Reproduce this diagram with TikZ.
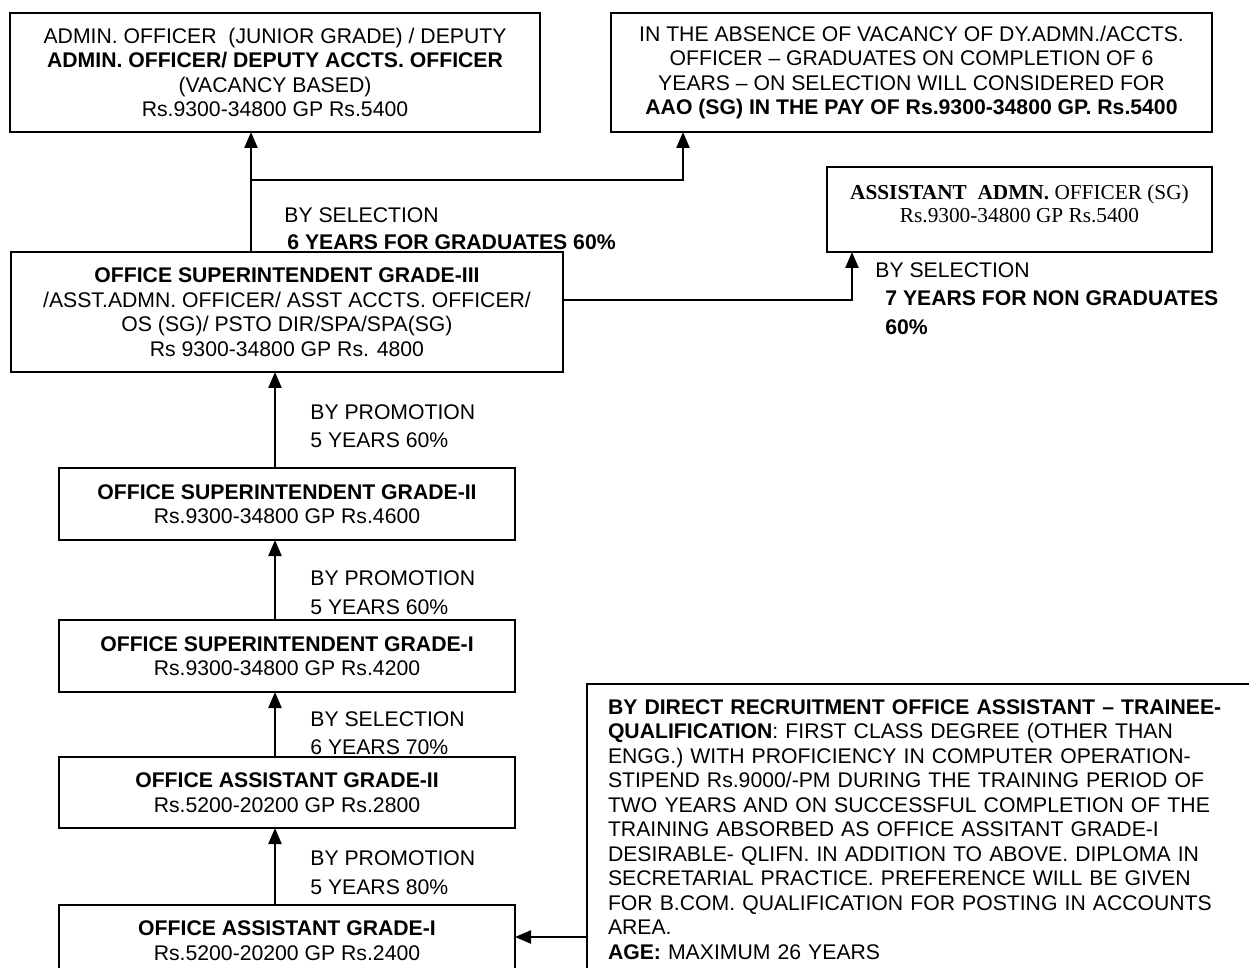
\documentclass[tikz,border=0pt]{standalone}
\usepackage{fontspec}
\setmainfont{Liberation Sans}
\newfontfamily\tnr{Liberation Serif}
\usetikzlibrary{arrows.meta}
\begin{document}
\begin{tikzpicture}[x=0.5pt,y=-0.5pt,
  txt/.style={font=\fontsize{10.6}{12.25}\selectfont},
  box/.style={txt, draw, line width=1pt, inner sep=0pt, outer sep=0pt,
    anchor=north west, align=center},
  lbl/.style={txt, inner sep=0pt, anchor=base west},
  arr/.style={line width=1.2pt, -{Triangle[length=8pt,width=6.5pt]}}]
\useasboundingbox (0,0) rectangle (1249,968);
\clip (0,0) rectangle (1249,968);
\fill[white] (0,0) rectangle (1249,968);

% upper posts
\node[box, minimum width=265pt, minimum height=59.5pt] (A) at (10,13)
  {ADMIN. OFFICER\ \ (JUNIOR GRADE) / DEPUTY\\
   \textbf{ADMIN. OFFICER/ DEPUTY ACCTS. OFFICER}\\
   (VACANCY BASED)\\
   Rs.9300-34800 GP Rs.5400};
\node[box, minimum width=300.5pt, minimum height=59.5pt] (B) at (611,13)
  {IN THE ABSENCE OF VACANCY OF DY.ADMN./ACCTS.\\
   OFFICER – GRADUATES ON COMPLETION OF 6\\
   YEARS – ON SELECTION WILL CONSIDERED FOR\\
   \textbf{AAO (SG) IN THE PAY OF Rs.9300-34800 GP. Rs.5400}};
\node[box, font=\tnr\fontsize{10.65}{11.5}\selectfont,
      minimum width=192.5pt, minimum height=42.5pt] (C) at (827,167)
  {\textbf{ASSISTANT\ \ ADMN.} OFFICER (SG)\\
   Rs.9300-34800 GP Rs.5400\rule[-5.6pt]{0pt}{5.6pt}};
\node[box, minimum width=276pt, minimum height=60pt] (D) at (11,252)
  {\textbf{OFFICE SUPERINTENDENT GRADE-III}\\
   /ASST.ADMN. OFFICER/ ASST ACCTS. OFFICER/\\
   OS (SG)/ PSTO DIR/SPA/SPA(SG)\\
   Rs 9300-34800 GP Rs. 4800};

% lower ladder
\node[box, minimum width=228pt, minimum height=36pt] (E) at (59,468)
  {\textbf{OFFICE SUPERINTENDENT GRADE-II}\\ Rs.9300-34800 GP Rs.4600};
\node[box, minimum width=228pt, minimum height=36pt] (F) at (59,620)
  {\textbf{OFFICE SUPERINTENDENT GRADE-I}\\ Rs.9300-34800 GP Rs.4200};
\node[box, minimum width=228pt, minimum height=35.5pt] (G) at (59,757)
  {\textbf{OFFICE ASSISTANT GRADE-II}\\ Rs.5200-20200 GP Rs.2800};
\node[box, minimum width=228pt, minimum height=35.5pt] (H) at (59,905)
  {\textbf{OFFICE ASSISTANT GRADE-I}\\ Rs.5200-20200 GP Rs.2400};

% direct recruitment
\node[txt, draw, line width=1pt, outer sep=0pt, anchor=north west,
      inner xsep=10.5pt, inner ysep=7.7pt, text width=320.5pt, align=left] (DR) at (587,684)
  {\textbf{BY DIRECT RECRUITMENT OFFICE ASSISTANT – TRAINEE-}\\
   \textbf{QUALIFICATION}: FIRST CLASS DEGREE (OTHER THAN\\
   ENGG.) WITH PROFICIENCY IN COMPUTER OPERATION-\\
   STIPEND Rs.9000/-PM DURING THE TRAINING PERIOD OF\\
   TWO YEARS AND ON SUCCESSFUL COMPLETION OF THE\\
   TRAINING ABSORBED AS OFFICE ASSITANT GRADE-I\\
   DESIRABLE- QLIFN. IN ADDITION TO ABOVE. DIPLOMA IN\\
   SECRETARIAL PRACTICE. PREFERENCE WILL BE GIVEN\\
   FOR B.COM. QUALIFICATION FOR POSTING IN ACCOUNTS\\
   AREA.\\
   \textbf{AGE:} MAXIMUM 26 YEARS};

% routing points
\coordinate (jb) at (251,180);
\coordinate (kb) at (683,180);
\coordinate (kc) at (852,300);
\coordinate (sx) at (275,0);
\coordinate (dy) at (0,937);

% connectors
\draw[arr] (D.north -| jb) -- (A.south -| jb);
\draw[arr] (jb) -- (kb) -- (B.south -| kb);
\draw[arr] (D.east |- kc) -- (kc) -- (C.south -| kc);
\draw[arr] (E.north -| sx) -- (D.south -| sx);
\draw[arr] (F.north -| sx) -- (E.south -| sx);
\draw[arr] (G.north -| sx) -- (F.south -| sx);
\draw[arr] (H.north -| sx) -- (G.south -| sx);
\draw[arr] (DR.west |- dy) -- (H.east |- dy);

% route labels
\node[lbl] (s1a) at (284,222.6) {BY SELECTION};
\node[lbl] (s1b) at (287,249.6) {\textbf{6 YEARS FOR GRADUATES 60\%}};
\node[lbl] (s2a) at (875,277.6) {BY SELECTION};
\node[lbl] (s2b) at (885,305.6) {\textbf{7 YEARS FOR NON GRADUATES}};
\node[lbl] (s2c) at (885,334.6) {\textbf{60\%}};
\node[lbl] (p1a) at (310,419.6) {BY PROMOTION};
\node[lbl] (p1b) at (310,447.6) {5 YEARS 60\%};
\node[lbl] (p2a) at (310,585.6) {BY PROMOTION};
\node[lbl] (p2b) at (310,614.6) {5 YEARS 60\%};
\node[lbl] (p3a) at (310,726.6) {BY SELECTION};
\node[lbl] (p3b) at (310,754.6) {6 YEARS 70\%};
\node[lbl] (p4a) at (310,865.6) {BY PROMOTION};
\node[lbl] (p4b) at (310,894.6) {5 YEARS 80\%};
\end{tikzpicture}
\end{document}
